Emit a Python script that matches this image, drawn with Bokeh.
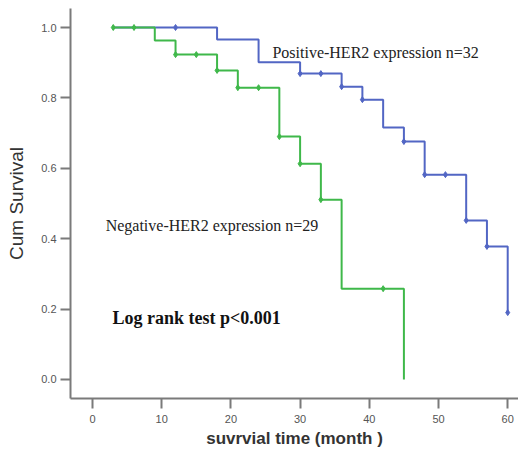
from bokeh.plotting import figure
from bokeh.models import FixedTicker, NumeralTickFormatter, Range1d
from bokeh.core.properties import value
from bokeh.embed import file_html
from bokeh.resources import INLINE

# Negative-HER2 (green) step curve
neg_time = [3, 9, 12, 18, 21, 27, 30, 33, 36, 45]
neg_surv = [1.0, 0.963, 0.923, 0.878, 0.829, 0.690, 0.613, 0.511, 0.258, 0.0]
neg_cens_time = [3, 6, 12, 15, 18, 21, 24, 27, 30, 33, 42]
neg_cens_surv = [1.0, 1.0, 0.923, 0.923, 0.878, 0.829, 0.829, 0.690, 0.613, 0.511, 0.258]

# Positive-HER2 (blue) step curve
pos_time = [3, 18, 24, 30, 36, 39, 42, 45, 48, 54, 57, 60]
pos_surv = [1.0, 0.966, 0.901, 0.869, 0.832, 0.795, 0.716, 0.676, 0.582, 0.452, 0.378, 0.190]
pos_cens_time = [12, 30, 33, 36, 39, 45, 48, 51, 54, 57, 60]
pos_cens_surv = [1.0, 0.869, 0.869, 0.832, 0.795, 0.676, 0.582, 0.582, 0.452, 0.378, 0.190]

x_ticks = [0, 10, 20, 30, 40, 50, 60]
y_ticks = [0.0, 0.2, 0.4, 0.6, 0.8, 1.0]

pos_label = "Positive-HER2  expression  n=32"
neg_label = "Negative-HER2  expression  n=29"
test_label = "Log rank test p<0.001"

BLUE = "#5266c4"
GREEN = "#3fb84a"
AXIS = "#7a7a7a"

p = figure(width=518, height=451, output_backend="svg", toolbar_location=None,
           x_range=Range1d(-3.18, 61.56), y_range=Range1d(-0.054, 1.054),
           min_border_left=70, min_border_right=0, min_border_top=8, min_border_bottom=53)
p.outline_line_color = None
p.grid.visible = False

p.step(pos_time, pos_surv, mode="after", line_color=BLUE, line_width=2)
p.scatter(pos_cens_time, pos_cens_surv, marker="diamond", size=6, color=BLUE)
p.step(neg_time, neg_surv, mode="after", line_color=GREEN, line_width=2)
p.scatter(neg_cens_time, neg_cens_surv, marker="diamond", size=6, color=GREEN)

p.text(x=[26.0], y=[0.929], text=[pos_label], text_font=value("Liberation Serif"),
       text_font_size="16px", text_color="#222222", text_baseline="middle", text_align="left")
p.text(x=[1.9], y=[0.437], text=[neg_label], text_font=value("Liberation Serif"),
       text_font_size="16px", text_color="#222222", text_baseline="middle", text_align="left")
p.text(x=[2.9], y=[0.176], text=[test_label], text_font=value("Liberation Serif"),
       text_font_size="18px", text_font_style="bold", text_color="#111111",
       text_baseline="middle", text_align="left")

for ax in (p.xaxis[0], p.yaxis[0]):
    ax.axis_line_color = AXIS
    ax.axis_line_width = 2
    ax.major_tick_line_color = AXIS
    ax.major_tick_line_width = 2
    ax.major_tick_in = 0
    ax.major_tick_out = 10
    ax.minor_tick_line_color = None
    ax.major_label_text_font = "Liberation Sans"
    ax.major_label_text_font_size = "11px"
    ax.major_label_text_color = "#555555"
    ax.axis_label_text_font = "Liberation Sans"
    ax.axis_label_text_font_style = "normal"
    ax.axis_label_text_color = "#333333"

p.xaxis.ticker = FixedTicker(ticks=x_ticks)
p.yaxis.ticker = FixedTicker(ticks=y_ticks)
p.yaxis.formatter = NumeralTickFormatter(format="0.0")
p.xaxis.axis_label = "suvrvial time (month )"
p.yaxis.axis_label = "Cum Survival"
p.xaxis.axis_label_text_font_size = "17px"
p.xaxis.axis_label_text_font_style = "bold"
p.yaxis.axis_label_text_font_size = "19px"
p.xaxis.major_label_standoff = 6
p.yaxis.major_label_standoff = 4
p.xaxis.axis_label_standoff = 3
p.yaxis.axis_label_standoff = 11

open("out.html", "w").write(file_html(p, INLINE))
